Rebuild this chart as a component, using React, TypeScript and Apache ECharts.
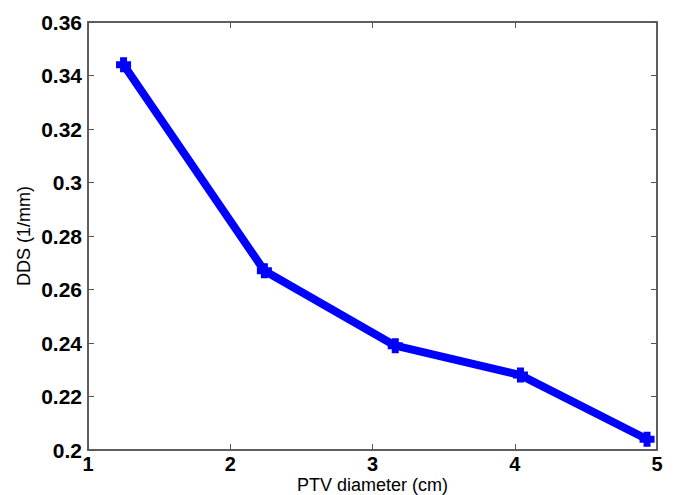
import React, { useEffect, useRef } from "react";
import * as echarts from "echarts";

const xValues = [1.25, 2.24, 3.16, 4.04, 4.93];
const ddsValues = [0.344, 0.267, 0.239, 0.228, 0.204];
const xLabel = "PTV diameter (cm)";
const yLabel = "DDS (1/mm)";

const plusPath =
  "path://M-1.4,-3 L1.4,-3 L1.4,-1.4 L3,-1.4 L3,1.4 L1.4,1.4 L1.4,3 L-1.4,3 L-1.4,1.4 L-3,1.4 L-3,-1.4 L-1.4,-1.4 Z";

export default function App() {
  const ref = useRef<HTMLDivElement>(null);
  useEffect(() => {
    if (!ref.current) return;
    const chart = echarts.init(ref.current, null, { renderer: "svg" });
    const font = "'Liberation Sans', Arial, sans-serif";
    const axisLineStyle = { color: "#555", width: 1.5 };
    const tickLabel = {
      color: "#000",
      fontFamily: font,
      fontWeight: "bold" as const,
      fontSize: 21,
    };
    chart.setOption({
      animation: false,
      backgroundColor: "#fff",
      grid: {
        left: 88,
        right: 19,
        top: 22,
        bottom: 45,
        show: true,
        borderColor: "#555",
        borderWidth: 1.5,
        containLabel: false,
        outerBoundsMode: "none",
      },
      xAxis: [
        {
          type: "value",
          min: 1,
          max: 5,
          interval: 1,
          position: "bottom",
          name: xLabel,
          nameLocation: "middle",
          nameGap: 26,
          nameMoveOverlap: false,
          nameTextStyle: { color: "#000", fontFamily: font, fontSize: 18 },
          axisLine: { show: true, lineStyle: axisLineStyle },
          axisTick: { show: true, inside: true, length: 6, lineStyle: { color: "#555" } },
          axisLabel: { ...tickLabel, fontSize: 20, margin: 4 },
          splitLine: { show: false },
        },
        {
          type: "value",
          min: 1,
          max: 5,
          interval: 1,
          position: "top",
          axisLine: { show: true, lineStyle: axisLineStyle },
          axisTick: { show: true, inside: true, length: 6, lineStyle: { color: "#555" } },
          axisLabel: { show: false },
          splitLine: { show: false },
        },
      ],
      yAxis: [
        {
          type: "value",
          min: 0.2,
          max: 0.36,
          interval: 0.02,
          position: "left",
          name: yLabel,
          nameLocation: "middle",
          nameGap: 55,
          nameMoveOverlap: false,
          nameTextStyle: { color: "#000", fontFamily: font, fontSize: 18 },
          axisLine: { show: true, lineStyle: axisLineStyle },
          axisTick: { show: true, inside: true, length: 6, lineStyle: { color: "#555" } },
          axisLabel: {
            ...tickLabel,
            margin: 6,
            formatter: (v: number) => String(parseFloat(v.toFixed(2))),
          },
          splitLine: { show: false },
        },
        {
          type: "value",
          min: 0.2,
          max: 0.36,
          interval: 0.02,
          position: "right",
          axisLine: { show: true, lineStyle: axisLineStyle },
          axisTick: { show: true, inside: true, length: 6, lineStyle: { color: "#555" } },
          axisLabel: { show: false },
          splitLine: { show: false },
        },
      ],
      series: [
        {
          type: "line",
          xAxisIndex: 0,
          yAxisIndex: 0,
          data: xValues.map((x, i) => [x, ddsValues[i]]),
          lineStyle: { color: "#0000ff", width: 8 },
          itemStyle: { color: "#0000ff" },
          symbol: plusPath,
          symbolSize: 15,
          showSymbol: true,
        },
      ],
    });
    return () => chart.dispose();
  }, []);
  return (
    <div
      ref={ref}
      style={{ width: 676, height: 495, position: "absolute", left: 0, top: 0 }}
    />
  );
}
